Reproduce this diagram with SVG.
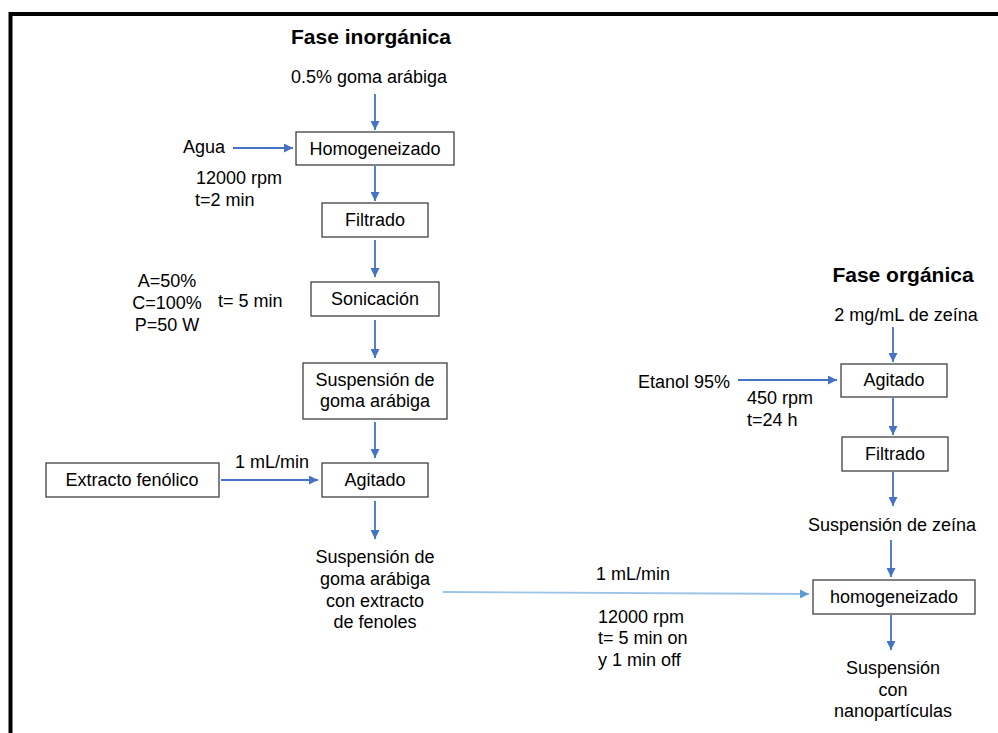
<svg xmlns="http://www.w3.org/2000/svg" width="998" height="733" viewBox="0 0 998 733">
  <style>
    text { font-family: "Liberation Sans", Arial, sans-serif; font-size: 18px; fill: #000; }
    .title { font-weight: bold; font-size: 21px; }
    .mid { text-anchor: middle; }
    .box { fill: #fff; stroke: #404040; stroke-width: 1.3; }
    .flow { stroke: #4472C4; stroke-width: 1.8; fill: none; marker-end: url(#head); }
    .feed { stroke: #9DC3E6; stroke-width: 1.8; fill: none; marker-end: url(#headLight); }
  </style>
  <defs>
    <marker id="head" viewBox="0 0 10 10" refX="10" refY="5" markerWidth="5" markerHeight="5" orient="auto" markerUnits="strokeWidth">
      <path d="M0,0 L10,5 L0,10 z" fill="#4472C4"/>
    </marker>
    <marker id="headLight" viewBox="0 0 10 10" refX="10" refY="5" markerWidth="5" markerHeight="5" orient="auto" markerUnits="strokeWidth">
      <path d="M0,0 L10,5 L0,10 z" fill="#5B9BD5"/>
    </marker>
  </defs>

  <rect width="998" height="733" fill="#fff"/>
  <!-- outer frame (runs past the right and bottom edges) -->
  <path d="M10.5,740 L10.5,14 L1005,14" fill="none" stroke="#000" stroke-width="4"/>

  <!-- section headings and free labels -->
  <text class="title mid" x="371" y="44">Fase inorgánica</text>
  <text class="title mid" x="903" y="282">Fase orgánica</text>

  <text class="mid" x="369" y="83">0.5% goma arábiga</text>
  <text x="183" y="153">Agua</text>
  <text x="196" y="184">12000 rpm</text>
  <text x="195" y="206">t=2 min</text>
  <text class="mid" x="167" y="287">A=50%</text>
  <text class="mid" x="167" y="309">C=100%</text>
  <text class="mid" x="167" y="331">P=50 W</text>
  <text x="218" y="307">t= 5 min</text>
  <text x="235" y="468">1 mL/min</text>

  <text class="mid" x="375" y="563">Suspensión de</text>
  <text class="mid" x="375" y="585">goma arábiga</text>
  <text class="mid" x="375" y="607">con extracto</text>
  <text class="mid" x="375" y="628">de fenoles</text>

  <text x="596" y="580">1 mL/min</text>
  <text x="598" y="623">12000 rpm</text>
  <text x="598" y="644">t= 5 min on</text>
  <text x="598" y="666">y 1 min off</text>

  <text class="mid" x="906" y="321">2 mg/mL de zeína</text>
  <text x="638" y="388">Etanol 95%</text>
  <text x="747" y="404">450 rpm</text>
  <text x="747" y="426">t=24 h</text>
  <text class="mid" x="892" y="531">Suspensión de zeína</text>
  <text class="mid" x="893" y="674">Suspensión</text>
  <text class="mid" x="893" y="696">con</text>
  <text class="mid" x="893" y="717">nanopartículas</text>

  <!-- process steps -->
  <g id="homogeneizado1">
    <rect class="box" x="296" y="132" width="158" height="33"/>
    <text class="mid" x="375" y="155">Homogeneizado</text>
  </g>
  <g id="filtrado1">
    <rect class="box" x="322" y="203" width="106" height="34"/>
    <text class="mid" x="375" y="226">Filtrado</text>
  </g>
  <g id="sonicacion">
    <rect class="box" x="311" y="282" width="128" height="34"/>
    <text class="mid" x="375" y="305">Sonicación</text>
  </g>
  <g id="suspension-goma">
    <rect class="box" x="303" y="363" width="144" height="56"/>
    <text class="mid" x="375" y="386">Suspensión de</text>
    <text class="mid" x="375" y="407">goma arábiga</text>
  </g>
  <g id="agitado1">
    <rect class="box" x="322" y="463" width="106" height="34"/>
    <text class="mid" x="375" y="486">Agitado</text>
  </g>
  <g id="extracto">
    <rect class="box" x="46" y="463" width="173" height="34"/>
    <text class="mid" x="132" y="486">Extracto fenólico</text>
  </g>
  <g id="agitado2">
    <rect class="box" x="841" y="364" width="106" height="33"/>
    <text class="mid" x="894" y="386">Agitado</text>
  </g>
  <g id="filtrado2">
    <rect class="box" x="842" y="437" width="106" height="34"/>
    <text class="mid" x="895" y="460">Filtrado</text>
  </g>
  <g id="homogeneizado2">
    <rect class="box" x="813" y="580" width="162" height="34"/>
    <text class="mid" x="894" y="603">homogeneizado</text>
  </g>

  <!-- connectors -->
  <g id="connectors">
    <line class="flow" x1="375" y1="94" x2="375" y2="130"/>
    <line class="flow" x1="233" y1="148" x2="293" y2="148"/>
    <line class="flow" x1="375" y1="166" x2="375" y2="201"/>
    <line class="flow" x1="375" y1="240" x2="375" y2="277"/>
    <line class="flow" x1="375" y1="320" x2="375" y2="358"/>
    <line class="flow" x1="375" y1="422" x2="375" y2="458"/>
    <line class="flow" x1="221" y1="480" x2="318" y2="480"/>
    <line class="flow" x1="375" y1="501" x2="375" y2="539"/>
    <line class="feed" x1="443" y1="592" x2="809" y2="594"/>
    <line class="flow" x1="893" y1="327" x2="893" y2="362"/>
    <line class="flow" x1="738" y1="380" x2="837" y2="380"/>
    <line class="flow" x1="893" y1="398" x2="893" y2="435"/>
    <line class="flow" x1="893" y1="472" x2="893" y2="506"/>
    <line class="flow" x1="891" y1="540" x2="891" y2="577"/>
    <line class="flow" x1="891" y1="615" x2="891" y2="650"/>
  </g>
</svg>
